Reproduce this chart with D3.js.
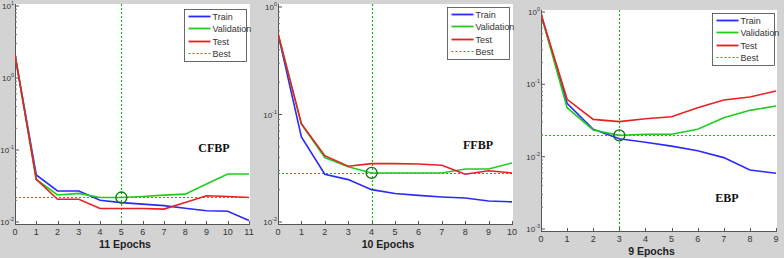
<!DOCTYPE html>
<html>
<head>
<meta charset="UTF-8" />
<script src="https://cdn.jsdelivr.net/npm/d3@7/dist/d3.min.js"></script>
<style>
  html, body { margin: 0; padding: 0; background: #d3d3d3; }
  svg { display: block; }
</style>
</head>
<body>
<div id="chart"></div>
<script>
// performance curves (mse, log scale)
const seriesNames = ["Train", "Validation", "Test"];
const seriesColors = ["#2a2aff", "#1fcc1f", "#e82020"];
const bestColor = "#22b022";

const cfbpTrain = [2.1, 0.045, 0.027, 0.027, 0.020, 0.0186, 0.0177, 0.0169, 0.0155, 0.0143, 0.0141, 0.0105];
const cfbpVal   = [2.1, 0.039, 0.0237, 0.025, 0.0219, 0.0219, 0.0226, 0.0236, 0.0244, 0.0337, 0.0464, 0.0464];
const cfbpTest  = [2.1, 0.039, 0.0207, 0.0207, 0.0154, 0.0154, 0.0154, 0.0151, 0.0186, 0.0231, 0.0226, 0.0219];

const ffbpTrain = [0.565, 0.062, 0.0278, 0.0248, 0.020, 0.0184, 0.0177, 0.0171, 0.0167, 0.0157, 0.0154];
const ffbpVal   = [0.565, 0.0813, 0.0398, 0.0326, 0.0286, 0.0286, 0.0286, 0.0286, 0.0311, 0.0311, 0.0354];
const ffbpTest  = [0.565, 0.082, 0.0414, 0.033, 0.0349, 0.0349, 0.0346, 0.0337, 0.0278, 0.030, 0.0286];

const ebpTrain = [0.93, 0.0546, 0.0239, 0.0177, 0.0158, 0.0140, 0.0121, 0.0097, 0.00655, 0.0059];
const ebpVal   = [0.93, 0.0475, 0.0234, 0.0197, 0.0204, 0.0204, 0.0239, 0.0346, 0.0437, 0.0502];
const ebpTest  = [0.93, 0.062, 0.0328, 0.0305, 0.0335, 0.0356, 0.0475, 0.0607, 0.0667, 0.081];

const methods = ["CFBP", "FFBP", "EBP"];
const epochCounts = [11, 10, 9];
const bestEpochs = [5, 4, 3];
const bestValues = [0.0219, 0.0286, 0.0197];
const decadeExtents = [[-2, 1], [-2, 0], [-3, 0]];

// layout of the three panels (pixels)
const panels = [
  { left: 15, right: 249, top: 4, bottom: 224, yHi: 6, yLo: 222,
    legend: [184, 9], label: [214, 152], data: [cfbpTrain, cfbpVal, cfbpTest] },
  { left: 278, right: 512, top: 4, bottom: 224, yHi: 7, yLo: 222,
    legend: [447, 7], label: [478, 149], data: [ffbpTrain, ffbpVal, ffbpTest] },
  { left: 541, right: 776, top: 10, bottom: 231, yHi: 12, yLo: 229,
    legend: [712, 13], label: [727, 202], data: [ebpTrain, ebpVal, ebpTest] }
];

const W = 784, H = 258;
const svg = d3.select("#chart").append("svg").attr("width", W).attr("height", H);
svg.append("rect").attr("width", W).attr("height", H).attr("fill", "#d3d3d3");

panels.forEach((p, i) => {
  const n = epochCounts[i];
  const [dLo, dHi] = decadeExtents[i];
  const x = d3.scaleLinear().domain([0, n]).range([p.left, p.right]);
  const y = d3.scaleLog().domain([Math.pow(10, dLo), Math.pow(10, dHi)]).range([p.yLo, p.yHi]);
  const g = svg.append("g");

  g.append("rect")
    .attr("x", p.left).attr("y", p.top)
    .attr("width", p.right - p.left + 1).attr("height", p.bottom - p.top)
    .attr("fill", "#fff");

  const clipId = "clip" + i;
  g.append("clipPath").attr("id", clipId).append("rect")
    .attr("x", p.left).attr("y", p.top)
    .attr("width", p.right - p.left + 1).attr("height", p.bottom - p.top);

  // axes lines
  g.append("line").attr("x1", p.left).attr("x2", p.right + 1)
    .attr("y1", p.bottom + 0.5).attr("y2", p.bottom + 0.5).attr("stroke", "#555").attr("stroke-width", 1);
  g.append("line").attr("x1", p.left + 0.5).attr("x2", p.left + 0.5)
    .attr("y1", p.top).attr("y2", p.bottom).attr("stroke", "#555").attr("stroke-width", 1);

  // x ticks
  d3.range(0, n + 1).forEach(t => {
    const xt = Math.round(x(t)) + 0.5;
    g.append("line").attr("x1", xt).attr("x2", xt)
      .attr("y1", p.bottom).attr("y2", p.bottom - 3).attr("stroke", "#555");
    g.append("text").attr("x", x(t)).attr("y", p.bottom + 11)
      .attr("text-anchor", "middle").attr("font-family", "Liberation Sans, Arial, sans-serif")
      .attr("font-size", 9).attr("fill", "#333").text(t);
  });
  g.append("text").attr("x", (p.left + p.right) / 2 - 7).attr("y", p.bottom + 24)
    .attr("text-anchor", "middle").attr("font-family", "Liberation Sans, Arial, sans-serif")
    .attr("font-size", 10.5).attr("font-weight", "bold").attr("fill", "#222")
    .text(n + " Epochs");

  // y ticks (log decades + minor)
  for (let d = dLo; d <= dHi; d++) {
    const v = Math.pow(10, d);
    g.append("line").attr("x1", p.left).attr("x2", p.left + 4)
      .attr("y1", y(v)).attr("y2", y(v)).attr("stroke", "#555");
    const lab = g.append("text").attr("x", p.left - 1).attr("y", y(v) + 3)
      .attr("text-anchor", "end").attr("font-family", "Liberation Sans, Arial, sans-serif")
      .attr("font-size", 8).attr("fill", "#333");
    lab.append("tspan").text("10");
    lab.append("tspan").attr("dy", -4).attr("font-size", 5.5).text(d);
    if (d < dHi) {
      for (let m = 2; m <= 9; m++) {
        g.append("line").attr("x1", p.left).attr("x2", p.left + 2)
          .attr("y1", y(m * v)).attr("y2", y(m * v)).attr("stroke", "#777");
      }
    }
  }

  // best lines
  const bx = Math.round(x(bestEpochs[i])) + 0.5;
  const by = Math.round(y(bestValues[i])) + 0.5;
  g.append("line").attr("x1", bx).attr("x2", bx)
    .attr("y1", p.top).attr("y2", p.bottom)
    .attr("stroke", bestColor).attr("stroke-dasharray", "2,2").attr("stroke-width", 1.2);
  g.append("line").attr("x1", p.left).attr("x2", p.right)
    .attr("y1", by).attr("y2", by)
    .attr("stroke", bestColor).attr("stroke-dasharray", "2,2").attr("stroke-width", 1.2);

  // curves
  const line = d3.line().x((d, k) => x(k)).y(d => y(d));
  const curves = g.append("g").attr("clip-path", `url(#${clipId})`);
  [0, 1, 2].forEach(s => {
    curves.append("path").datum(p.data[s])
      .attr("d", line).attr("fill", "none")
      .attr("stroke", seriesColors[s]).attr("stroke-width", 1.6);
  });

  // best marker
  g.append("circle").attr("cx", x(bestEpochs[i])).attr("cy", y(bestValues[i]))
    .attr("r", 5.5).attr("fill", "none").attr("stroke", "#137013").attr("stroke-width", 1.3);

  // method label
  g.append("text").attr("x", p.label[0]).attr("y", p.label[1])
    .attr("text-anchor", "middle").attr("font-family", "Liberation Serif, Times New Roman, serif")
    .attr("font-size", 12).attr("font-weight", "bold").attr("fill", "#111")
    .text(methods[i]);

  // legend
  const [lx, ly] = p.legend;
  const lg = g.append("g").attr("transform", `translate(${lx + 0.5},${ly + 0.5})`);
  lg.append("rect").attr("width", 62).attr("height", 52)
    .attr("fill", "#fff").attr("stroke", "#444").attr("stroke-width", 0.8);
  const labels = seriesNames.concat(["Best"]);
  labels.forEach((name, k) => {
    const yy = Math.round(7 + k * 12.3);
    lg.append("line").attr("x1", 4).attr("x2", 26).attr("y1", yy).attr("y2", yy)
      .attr("stroke", k < 3 ? seriesColors[k] : bestColor)
      .attr("stroke-width", k < 3 ? 1.8 : 1.2)
      .attr("stroke-dasharray", k < 3 ? null : "2,2");
    lg.append("text").attr("x", 28).attr("y", yy + 3)
      .attr("font-family", "Liberation Sans, Arial, sans-serif")
      .attr("font-size", 9).attr("fill", "#333").text(name);
  });
});
</script>
</body>
</html>
